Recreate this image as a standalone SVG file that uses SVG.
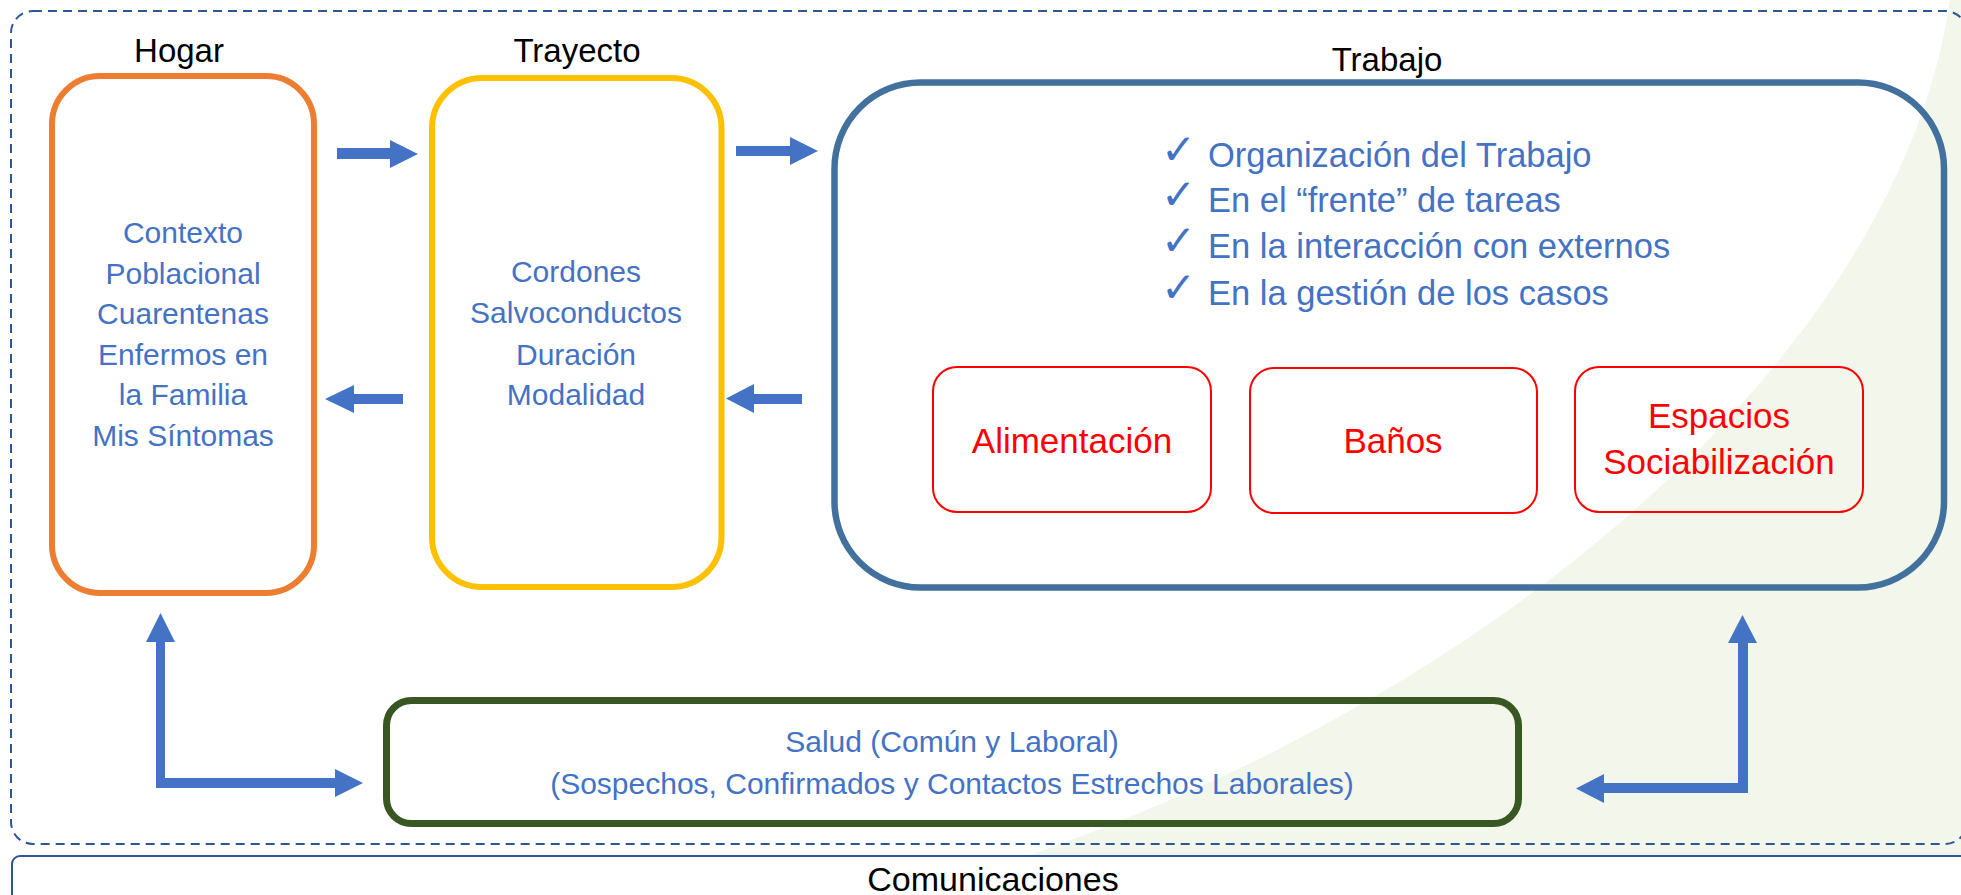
<svg xmlns="http://www.w3.org/2000/svg" width="1961" height="895" viewBox="0 0 1961 895">
<style>
.title{font-family:"Liberation Sans",Arial,sans-serif;font-size:33px;fill:#000;text-anchor:middle}
.body{font-family:"Liberation Sans",Arial,sans-serif;font-size:30px;fill:#4472C4;text-anchor:middle}
.item{font-family:"Liberation Sans",Arial,sans-serif;font-size:34.5px;fill:#4472C4}
.chk{font-family:"DejaVu Sans",sans-serif;font-size:42px;fill:#4472C4}
.red{font-family:"Liberation Sans",Arial,sans-serif;font-size:35px;fill:#FF0000;text-anchor:middle}
.redbox{fill:none;stroke:#FF0000;stroke-width:2}
.arrow{fill:#4472C4}
</style>
<rect x="0" y="0" width="1961" height="895" fill="#ffffff"/>
<path d="M1950,0 C1900,350 1500,700 1000,865 L1961,865 L1961,0 Z" fill="#f2f6eb"/>
<rect id="outer-frame" x="11" y="11" width="1956" height="833" rx="22" fill="none" stroke="#2F5597" stroke-width="2" stroke-dasharray="9 6"/>
<g id="comunicaciones">
<rect x="12" y="856" width="1990" height="80" rx="8" fill="#ffffff" stroke="#2F5597" stroke-width="2"/>
<text class="title" x="993" y="891" style="font-size:34px">Comunicaciones</text>
</g>
<g id="hogar">
<text class="title" x="179" y="62">Hogar</text>
<rect x="52" y="76" width="262" height="517" rx="48" fill="none" stroke="#ED7D31" stroke-width="6"/>
<text class="body" x="183" y="243">Contexto</text>
<text class="body" x="183" y="284">Poblacional</text>
<text class="body" x="183" y="324">Cuarentenas</text>
<text class="body" x="183" y="365">Enfermos en</text>
<text class="body" x="183" y="405">la Familia</text>
<text class="body" x="183" y="446">Mis Síntomas</text>
</g>
<g id="trayecto">
<text class="title" x="577" y="62">Trayecto</text>
<rect x="432" y="78" width="289.5" height="509" rx="50" fill="none" stroke="#FFC000" stroke-width="6"/>
<text class="body" x="576" y="282">Cordones</text>
<text class="body" x="576" y="323">Salvoconductos</text>
<text class="body" x="576" y="365">Duración</text>
<text class="body" x="576" y="405">Modalidad</text>
</g>
<g id="trabajo">
<text class="title" x="1387" y="71">Trabajo</text>
<rect x="834.5" y="82.5" width="1109.5" height="505" rx="86" fill="none" stroke="#41719C" stroke-width="6.5"/>
<text class="chk" x="1161" y="164">✓</text>
<text class="item" x="1208" y="167">Organización del Trabajo</text>
<text class="chk" x="1161" y="209">✓</text>
<text class="item" x="1208" y="212">En el “frente” de tareas</text>
<text class="chk" x="1161" y="255">✓</text>
<text class="item" x="1208" y="258">En la interacción con externos</text>
<text class="chk" x="1161" y="302">✓</text>
<text class="item" x="1208" y="305">En la gestión de los casos</text>
</g>
<g id="alimentacion">
<rect class="redbox" x="933" y="367" width="278" height="145" rx="24"/>
<text class="red" x="1072" y="453">Alimentación</text>
</g>
<g id="banos">
<rect class="redbox" x="1250" y="368" width="287" height="145" rx="24"/>
<text class="red" x="1393" y="453">Baños</text>
</g>
<g id="espacios">
<rect class="redbox" x="1575" y="367" width="288" height="145" rx="24"/>
<text class="red" x="1719" y="428">Espacios</text>
<text class="red" x="1719" y="474">Sociabilización</text>
</g>
<g id="salud">
<rect x="386.5" y="700.5" width="1132" height="123" rx="25" fill="none" stroke="#385723" stroke-width="7"/>
<text class="body" x="952" y="752">Salud (Común y Laboral)</text>
<text class="body" x="952" y="794">(Sospechos, Confirmados y Contactos Estrechos Laborales)</text>
</g>
<g id="connectors">
<polygon class="arrow" points="337,148 390,148 390,140 418,154 390,168 390,159 337,159"/>
<polygon class="arrow" points="403,394 354,394 354,385 325,399 354,413 354,404 403,404"/>
<polygon class="arrow" points="736,146 790,146 790,137 818,151 790,165 790,156 736,156"/>
<polygon class="arrow" points="802,394 754,394 754,384 726,398.5 754,413 754,404 802,404"/>
<polygon class="arrow" points="156,788 156,642 146,642 160.5,613 175,642 165,642 165,778 335,778 335,769 363,783 335,797 335,788"/>
<polygon class="arrow" points="1748,793 1748,643 1757,643 1742.5,615 1728,643 1738,643 1738,783 1604,783 1604,774 1576,788.5 1604,803 1604,793"/>
</g>
</svg>
